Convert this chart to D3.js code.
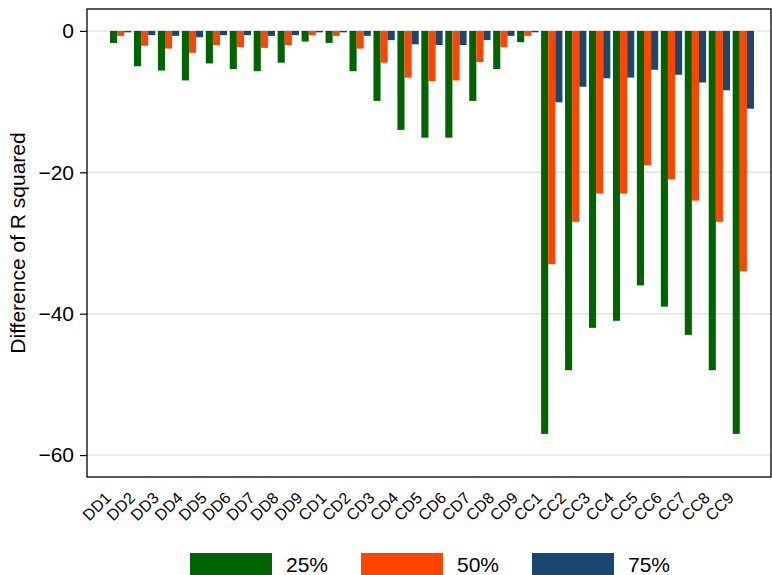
<!DOCTYPE html>
<html>
<head>
<meta charset="utf-8">
<script src="https://cdn.jsdelivr.net/npm/d3@7/dist/d3.min.js"></script>
<style>
  body { margin: 0; background: #fff; }
  text { font-family: "Liberation Sans", Arial, Helvetica, sans-serif; }
</style>
</head>
<body>
<div id="chart-container"></div>
<script>
// Chart data
const categories = ["DD1", "DD2", "DD3", "DD4", "DD5", "DD6", "DD7", "DD8", "DD9",
                    "CD1", "CD2", "CD3", "CD4", "CD5", "CD6", "CD7", "CD8", "CD9",
                    "CC1", "CC2", "CC3", "CC4", "CC5", "CC6", "CC7", "CC8", "CC9"];
const seriesNames = ["25%", "50%", "75%"];
const values25 = [-1.7, -5.0, -5.6, -7.0, -4.6, -5.4, -5.7, -4.5, -1.5,
                  -1.7, -5.7, -9.9, -14.0, -15.1, -15.1, -9.9, -5.4, -1.6,
                  -57.0, -48.0, -42.0, -41.0, -36.0, -39.0, -43.0, -48.0, -57.0];
const values50 = [-0.7, -2.1, -2.5, -3.1, -2.0, -2.3, -2.4, -2.0, -0.6,
                  -0.7, -2.5, -4.5, -6.6, -7.1, -7.0, -4.4, -2.3, -0.7,
                  -33.0, -27.0, -23.0, -23.0, -19.0, -21.0, -24.0, -27.0, -34.0];
const values75 = [-0.2, -0.6, -0.7, -0.9, -0.6, -0.6, -0.7, -0.6, -0.2,
                  -0.2, -0.7, -1.3, -1.9, -2.0, -2.0, -1.3, -0.7, -0.2,
                  -10.1, -7.9, -6.7, -6.6, -5.5, -6.2, -7.3, -8.4, -11.0];
const yTicks = [0, -20, -40, -60];

const colors = ["#006400", "#ff4500", "#1a476f"];
const allSeries = [values25, values50, values75];

// Layout
const width = 772, height = 575;
const plot = { left: 87, top: 9, right: 771, bottom: 477 };

const svg = d3.select("#chart-container")
    .append("svg")
    .attr("width", width)
    .attr("height", height);

// Scales
const xScale = d3.scaleBand()
    .domain(categories)
    .range([plot.left + 23, plot.left + 667])
    .paddingInner(0.11)
    .paddingOuter(0);

const xSub = d3.scaleBand()
    .domain(seriesNames)
    .range([0, xScale.bandwidth()]);

const yScale = d3.scaleLinear()
    .domain([-63.1, 3.1])
    .range([plot.bottom, plot.top]);

// Gridlines
svg.append("g")
    .selectAll("line")
    .data(yTicks)
    .enter()
    .append("line")
    .attr("x1", plot.left)
    .attr("x2", plot.right)
    .attr("y1", d => yScale(d))
    .attr("y2", d => yScale(d))
    .attr("stroke", "#e3e3e3")
    .attr("stroke-width", 1.5);

// Bars
const rows = categories.map((c, i) => ({
    category: c,
    values: seriesNames.map((s, j) => ({ series: s, idx: j, value: allSeries[j][i] }))
}));

svg.append("g")
    .selectAll("g")
    .data(rows)
    .enter()
    .append("g")
    .attr("transform", d => `translate(${xScale(d.category)},0)`)
    .selectAll("rect")
    .data(d => d.values)
    .enter()
    .append("rect")
    .attr("x", d => xSub(d.series))
    .attr("y", yScale(0))
    .attr("width", xSub.bandwidth())
    .attr("height", d => yScale(d.value) - yScale(0))
    .attr("fill", d => colors[d.idx]);

// Y axis
const yAxis = svg.append("g")
    .attr("transform", `translate(${plot.left},0)`)
    .call(d3.axisLeft(yScale).tickValues(yTicks).tickSize(7).tickPadding(6));
yAxis.select(".domain").remove();
yAxis.selectAll("line").attr("stroke", "#000").attr("stroke-width", 1.2);
yAxis.selectAll("text")
    .attr("font-size", "21px")
    .attr("fill", "#000")
    .style("font-family", "'Liberation Sans', Arial, sans-serif");

// Plot frame
svg.append("rect")
    .attr("x", plot.left)
    .attr("y", plot.top)
    .attr("width", plot.right - plot.left)
    .attr("height", plot.bottom - plot.top)
    .attr("fill", "none")
    .attr("stroke", "#000")
    .attr("stroke-width", 1.3);

// Rotated category labels
svg.append("g")
    .selectAll("text")
    .data(categories)
    .enter()
    .append("text")
    .attr("transform", d => `translate(${xScale(d) + 2},499) rotate(-45)`)
    .attr("text-anchor", "end")
    .attr("font-size", "16px")
    .text(d => d);

// Y axis title
svg.append("text")
    .attr("transform", `translate(25,${(plot.top + plot.bottom) / 2}) rotate(-90)`)
    .attr("text-anchor", "middle")
    .attr("font-size", "21px")
    .text("Difference of R squared");

// Legend
const legend = svg.append("g")
    .selectAll("g")
    .data(seriesNames)
    .enter()
    .append("g")
    .attr("transform", (d, i) => `translate(${190 + i * 171},553)`);

legend.append("rect")
    .attr("width", 82)
    .attr("height", 24)
    .attr("fill", (d, i) => colors[i]);

legend.append("text")
    .attr("x", 96)
    .attr("y", 19)
    .attr("font-size", "21px")
    .text(d => d);
</script>
</body>
</html>
